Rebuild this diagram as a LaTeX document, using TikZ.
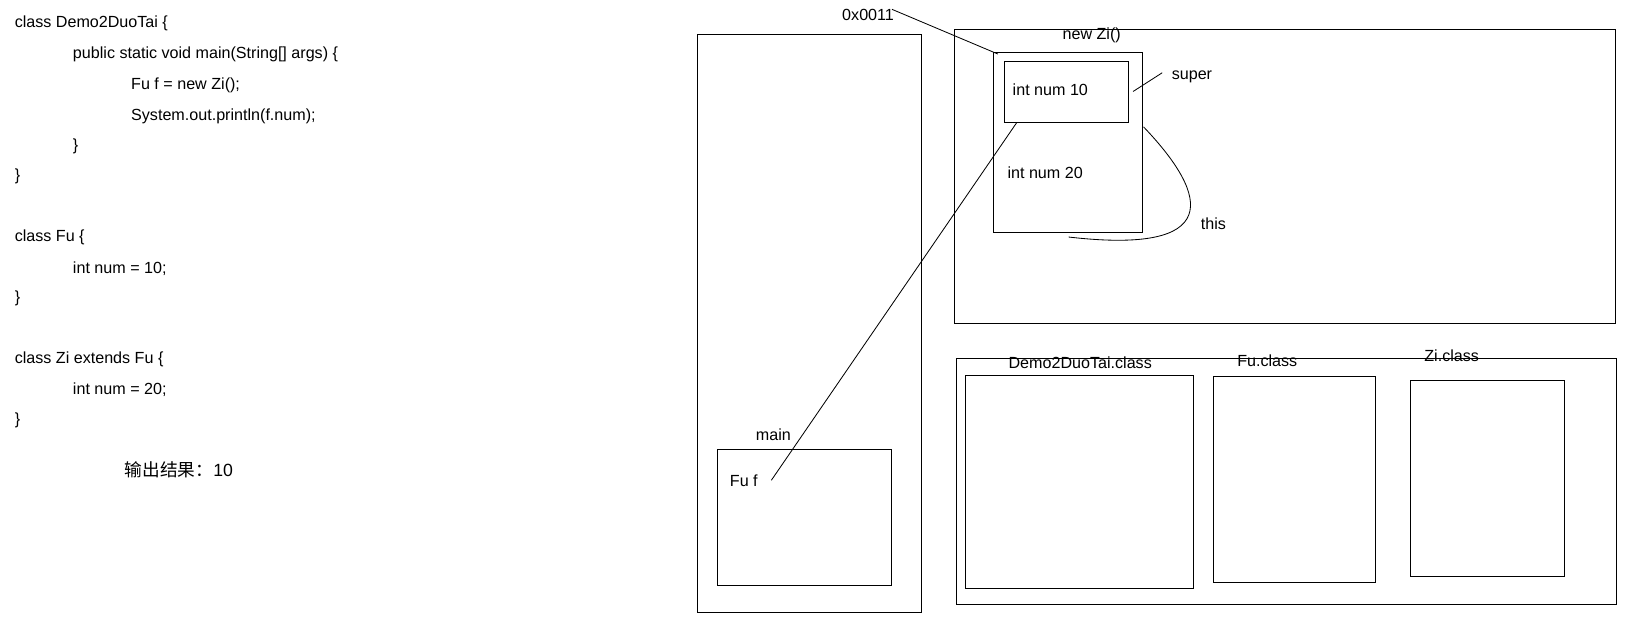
\documentclass[tikz,border=0pt]{standalone}
\usepackage{fontspec}
\setmainfont{Liberation Sans}
\newfontfamily\cjk{Noto Sans CJK SC}
\begin{document}
\begin{tikzpicture}[x=1pt,y=-1pt,
  t/.style={anchor=west,inner sep=0pt,font=\fontsize{15.5}{18}\selectfont},
  box/.style={draw,line width=0.9pt}]
\useasboundingbox (0,0) rectangle (1568,600);
% code
\node[t] (c1) at (14,22) {class Demo2DuoTai \{};
\node[t] (c2) at (70,52) {public static void main(String[] args) \{};
\node[t] (c3) at (126,82) {Fu f = new Zi();};
\node[t] (c4) at (126,112) {System.out.println(f.num);};
\node[t] (c5) at (70,141) {\}};
\node[t] (c6) at (14,170) {\}};
\node[t] (c7) at (14,228) {class Fu \{};
\node[t] (c8) at (70,258) {int num = 10;};
\node[t] (c9) at (14,287) {\}};
\node[t] (c10) at (14,346) {class Zi extends Fu \{};
\node[t] (c11) at (70,375) {int num = 20;};
\node[t] (c12) at (14,404) {\}};
\node[t] (res) at (120,452) {{\cjk\fontsize{17}{19}\selectfont 输出结果：}\fontsize{17}{19}\selectfont 10};
% stack
\draw[box] (671,33) rectangle (886,589);
\node[t] (mainl) at (727,418) {main};
\draw[box] (690,432) rectangle (858,563);
\node[t] (fuf) at (702,462) {Fu f};
% heap
\draw[box] (918,28) rectangle (1554,311);
\node[t] (newzi) at (1022,34) {new Zi()};
\draw[box] (956,50) rectangle (1099,224);
\draw[box] (966,59) rectangle (1086,118);
\node[t] (n10) at (974,86) {int num 10};
\node[t] (n20) at (969,166) {int num 20};
\node[t] (sup) at (1127,74) {super};
\node[t] (thisl) at (1155,215) {this};
\node[t] (addr) at (810,14) {0x0011};
\coordinate (objtl) at (960,52);
\coordinate (ftip) at (742,462);
\coordinate (inbot) at (978,118);
\coordinate (supA) at (1090,88);
\coordinate (supB) at (1118,70);
\coordinate (thisA) at (1100,122);
\coordinate (thisB) at (1028,228);
\draw[line width=0.8pt] (addr.east) ++(-2,-5) -- (objtl);
\draw[line width=0.8pt] (ftip) -- (inbot);
\draw[line width=0.8pt] (supA) -- (supB);
\draw[line width=0.8pt] (thisA) .. controls (1165,190) and (1175,245) .. (thisB);
% method area
\draw[box] (920,345) rectangle (1555,581);
\node[t] (dcl) at (970,349) {Demo2DuoTai.class};
\draw[box] (929,361) rectangle (1148,566);
\node[t] (fcl) at (1190,347) {Fu.class};
\draw[box] (1167,362) rectangle (1323,560);
\node[t] (zcl) at (1370,342) {Zi.class};
\draw[box] (1357,366) rectangle (1505,555);
\end{tikzpicture}
\end{document}
